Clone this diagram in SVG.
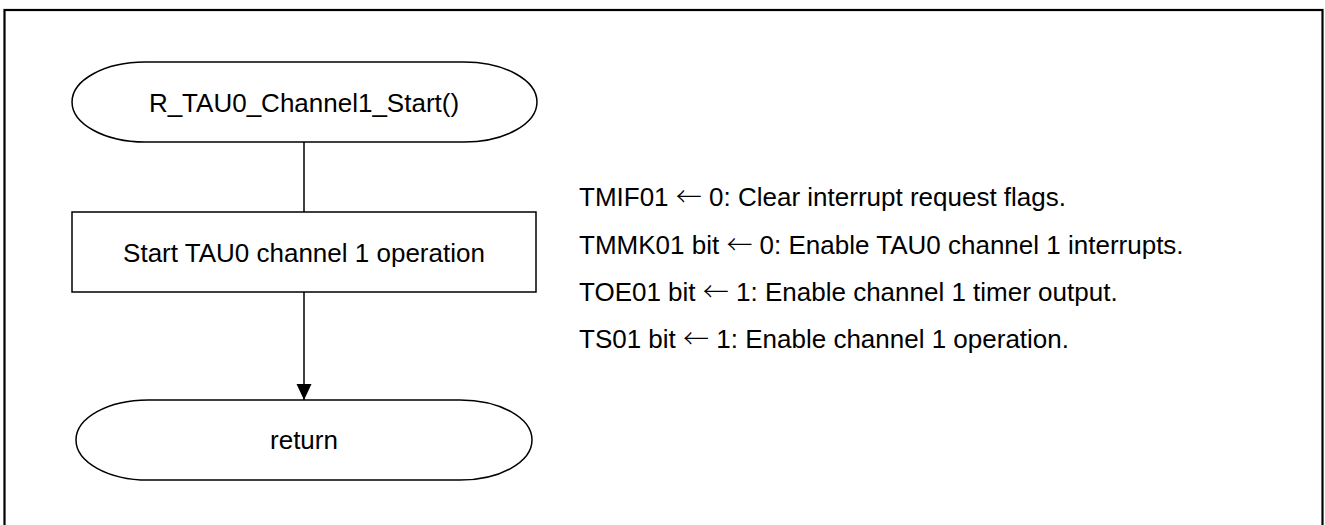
<svg xmlns="http://www.w3.org/2000/svg" width="1325" height="525" viewBox="0 0 1325 525">
  <style>
    .shape { fill: #ffffff; stroke: #000000; stroke-width: 1.5; }
    .conn { stroke: #000000; stroke-width: 1.5; fill: none; }
    .lbl { font-family: "Liberation Sans", Arial, sans-serif; font-size: 26px; fill: #000000; }
    .mid { text-anchor: middle; }
    .arr { font-family: "Noto Sans CJK JP", "DejaVu Sans", sans-serif; font-weight: 300; }
  </style>
  <defs>
    <marker id="arrow" markerUnits="userSpaceOnUse" markerWidth="16" markerHeight="16" viewBox="0 0 16 16" refX="16" refY="8" orient="auto">
      <path d="M0,0.5 L16,8 L0,15.5 Z" fill="#000000"/>
    </marker>
  </defs>
  <rect x="0" y="0" width="1325" height="525" fill="#ffffff"/>
  <rect id="frame" x="4.5" y="10" width="1318" height="530" fill="none" stroke="#000000" stroke-width="2.2"/>

  <g id="connectors">
    <line class="conn" x1="304" y1="142" x2="304" y2="212"/>
    <line class="conn" x1="304" y1="292" x2="304" y2="400" marker-end="url(#arrow)"/>
  </g>

  <g id="start">
    <path class="shape" d="M145,62 L464,62 A73,40 0 0 1 464,142 L145,142 A73,40 0 0 1 145,62 Z"/>
    <text class="lbl mid" x="304" y="111.5">R_TAU0_Channel1_Start()</text>
  </g>

  <g id="process">
    <rect class="shape" x="72" y="212" width="464" height="80"/>
    <text class="lbl mid" x="304" y="261.5">Start TAU0 channel 1 operation</text>
  </g>

  <g id="return">
    <path class="shape" d="M148,400 L460,400 A72,40 0 0 1 460,480 L148,480 A72,40 0 0 1 148,400 Z"/>
    <text class="lbl mid" x="304" y="449">return</text>
  </g>

  <g id="notes">
    <text class="lbl" x="579" y="206">TMIF01 <tspan class="arr">←</tspan> 0: Clear interrupt request flags.</text>
    <text class="lbl" x="579" y="253.5">TMMK01 bit <tspan class="arr">←</tspan> 0: Enable TAU0 channel 1 interrupts.</text>
    <text class="lbl" x="579" y="301">TOE01 bit <tspan class="arr">←</tspan> 1: Enable channel 1 timer output.</text>
    <text class="lbl" x="579" y="348">TS01 bit <tspan class="arr">←</tspan> 1: Enable channel 1 operation.</text>
  </g>
</svg>
